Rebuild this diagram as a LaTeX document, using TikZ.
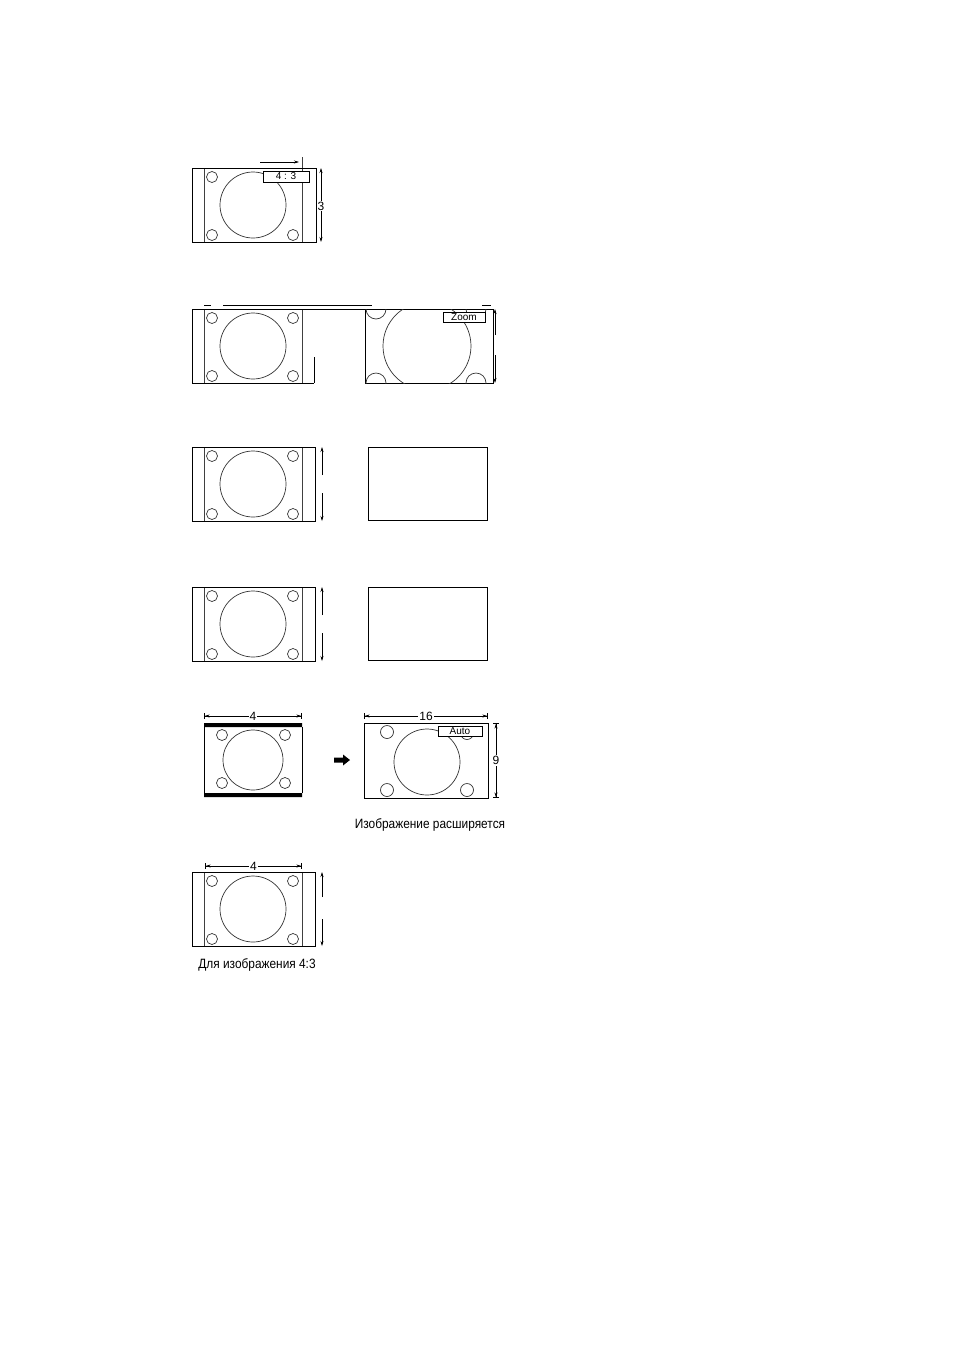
\documentclass[tikz,border=0pt]{standalone}
\usepackage{fontspec}
\setmainfont{Liberation Sans}
\newfontfamily\narrowfont[FakeStretch=0.88]{Liberation Sans}
\usetikzlibrary{arrows.meta}

\begin{document}
\begin{tikzpicture}[x=1pt,y=-1pt,
  frame/.style={draw=black,line width=0.9pt},
  pillar/.style={draw=black!75,line width=0.8pt},
  spot/.style={draw=black!80,line width=0.7pt},
  tag/.style={draw=black,fill=white,line width=0.7pt,inner sep=0pt,font=\fontsize{10}{10}\selectfont},
  dim/.style={line width=0.6pt,{Bar[width=6pt]Stealth[length=5pt,width=3pt]}-{Stealth[length=5pt,width=3pt]Bar[width=6pt]}},
  halfdim/.style={line width=0.6pt,-{Stealth[length=5pt,width=3pt]}},
  dimlabel/.style={fill=white,inner sep=1pt,font=\fontsize{12}{12}\selectfont},
  caption/.style={font=\narrowfont\fontsize{13.5}{13.5}\selectfont},
  pillarbox/.pic={
    % 4:3 picture inside a wide frame, origin = top left corner
    \draw[pillar] (12,0) -- (12,74) (110,0) -- (110,74);
    \draw[spot] (61,37) circle (33);
    \foreach \cx/\cy in {20/9,101/9,20/67,101/67}
      \draw[spot] (\cx,\cy) circle (5.5);
  }]
\useasboundingbox (0,0) rectangle (954,1350);

% 4:3
\pic at (192,168) {pillarbox};
\draw[frame] (192,168) rectangle (316,242);
\draw[pillar] (302,157) -- (302,168);
\node[tag,minimum width=46pt,minimum height=11pt] (tag43) at (286,176.5) {4 : 3};
\coordinate (w43a) at (260,162);
\coordinate (w43b) at (299,162);
\draw[halfdim] (w43a) -- (w43b);
\node[font=\fontsize{12}{12}\selectfont,inner sep=1pt] (h43) at (321,206) {3};
\draw[halfdim] (h43.north) -- (321,168);
\draw[halfdim] (h43.south) -- (321,242);

% Zoom
\pic at (192,309) {pillarbox};
\draw[frame] (192,383) -- (192,309) -- (493,309);
\draw[frame] (192,383) -- (314,383) (314,357) -- (314,383);
\draw[frame] (365,309) rectangle (493,383);
\begin{scope}
  \clip (365,309) rectangle (493,383);
  \draw[spot] (427,346) circle (44);
  \foreach \cx/\cy in {376/309,376/383,476/383,476/309}
    \draw[spot] (\cx,\cy) circle (10);
\end{scope}
\node[tag,minimum width=42pt,minimum height=10pt] (tagzoom) at (464,317) {Zoom};
\draw[line width=1pt] (204,305) -- (211,305) (223,305) -- (372,305) (482,305) -- (491,305);
\coordinate (hz1) at (495,335);
\coordinate (hz2) at (495,355);
\draw[halfdim] (hz1) -- (495,309);
\draw[halfdim] (hz2) -- (495,383);

% two plain screens
\foreach \y in {447,587}{
  \pic at (192,\y) {pillarbox};
  \draw[frame] (192,\y) rectangle (315,\y+74);
  \draw[halfdim] (322,\y+28) -- (322,\y);
  \draw[halfdim] (322,\y+46) -- (322,\y+74);
  \draw[frame] (368,\y) rectangle (487,\y+73);
}

% Auto
\fill (204,723) rectangle (302,727) (204,793) rectangle (302,797);
\draw[frame] (204,727) -- (204,793) (302,727) -- (302,793);
\draw[spot] (253,760) circle (30);
\foreach \cx/\cy in {222/735,285/735,222/783,285/783}
  \draw[spot] (\cx,\cy) circle (5.5);
\draw[dim] (204,716) -- node[dimlabel] (w4a) {4} (302,716);
\fill (334,757.5) -- (343,757.5) -- (343,754.5) -- (350,760) -- (343,765.5) -- (343,762.5) -- (334,762.5) -- cycle;
\draw[frame] (364,723) rectangle (488,798);
\draw[spot] (427,762) circle (33);
\foreach \cx/\cy in {387/732,467/733,387/790,467/790}
  \draw[spot] (\cx,\cy) circle (6.5);
\node[tag,minimum width=44pt,minimum height=10pt] (tagauto) at (460,731) {Auto};
\draw[dim] (364,716) -- node[dimlabel] (w16) {16} (488,716);
\draw[dim] (496,723) -- node[dimlabel] (h9) {9} (496,798);
\node[caption] (capwide) at (430,825) {Изображение расширяется};

% 4:3 frame
\pic at (192,872) {pillarbox};
\draw[frame] (192,872) rectangle (315,946);
\draw[dim] (205,866) -- node[dimlabel] (w4b) {4} (302,866);
\draw[halfdim] (322,897) -- (322,872);
\draw[halfdim] (322,919) -- (322,946);
\node[caption] (cap43) at (257,965) {Для изображения 4:3};

\end{tikzpicture}
\end{document}
